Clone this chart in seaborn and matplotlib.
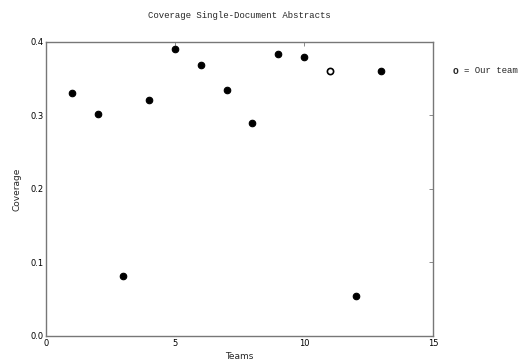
import pandas as pd
import matplotlib
matplotlib.use("Agg")
import matplotlib.pyplot as plt
import seaborn as sns

teams = [1, 2, 3, 4, 5, 6, 7, 8, 9, 10, 11, 12, 13]
coverage = [0.330, 0.302, 0.081, 0.321, 0.390, 0.369, 0.335, 0.290, 0.384, 0.380, 0.361, 0.055, 0.361]
our_team = 11

df = pd.DataFrame({"Teams": teams, "Coverage": coverage})
df["ours"] = df["Teams"] == our_team

sns.set_style("white")
plt.rcParams["font.family"] = ["DejaVu Sans"]

fig = plt.figure(figsize=(5.18, 3.64), dpi=100)
ax = fig.add_axes([0.089, 0.077, 0.747, 0.808])

sns.scatterplot(data=df[~df["ours"]], x="Teams", y="Coverage", ax=ax,
                color="black", s=22, edgecolor="black", linewidth=0.8, legend=False)
sns.scatterplot(data=df[df["ours"]], x="Teams", y="Coverage", ax=ax,
                color="white", s=20, edgecolor="black", linewidth=1.2, legend=False)

ax.set_xlim(0, 15)
ax.set_ylim(0, 0.4)
ax.set_xticks([0, 5, 10, 15])
ax.set_yticks([0.0, 0.1, 0.2, 0.3, 0.4])
ax.set_yticklabels(["0.0", "0.1", "0.2", "0.3", "0.4"])
ax.tick_params(direction="in", length=3, width=0.6, colors="#777777", labelcolor="black",
               labelsize=6, top=True, right=True, pad=2)
for s in ax.spines.values():
    s.set_color("#777777")
    s.set_linewidth(1.0)

ax.set_xlabel("Teams", fontsize=6.5, labelpad=3)
ax.set_ylabel("Coverage", fontsize=6.5, labelpad=6)

fig.text(0.462, 0.958, "Coverage Single-Document Abstracts", ha="center", va="center",
         fontsize=6.5, family="Liberation Mono")
fig.text(0.873, 0.805, "o", ha="left", va="center", fontsize=7, fontweight="bold",
         family="Liberation Mono")
fig.text(0.895, 0.805, "= Our team", ha="left", va="center", fontsize=6.5,
         family="Liberation Mono")

fig.savefig("out.png", dpi=100)
